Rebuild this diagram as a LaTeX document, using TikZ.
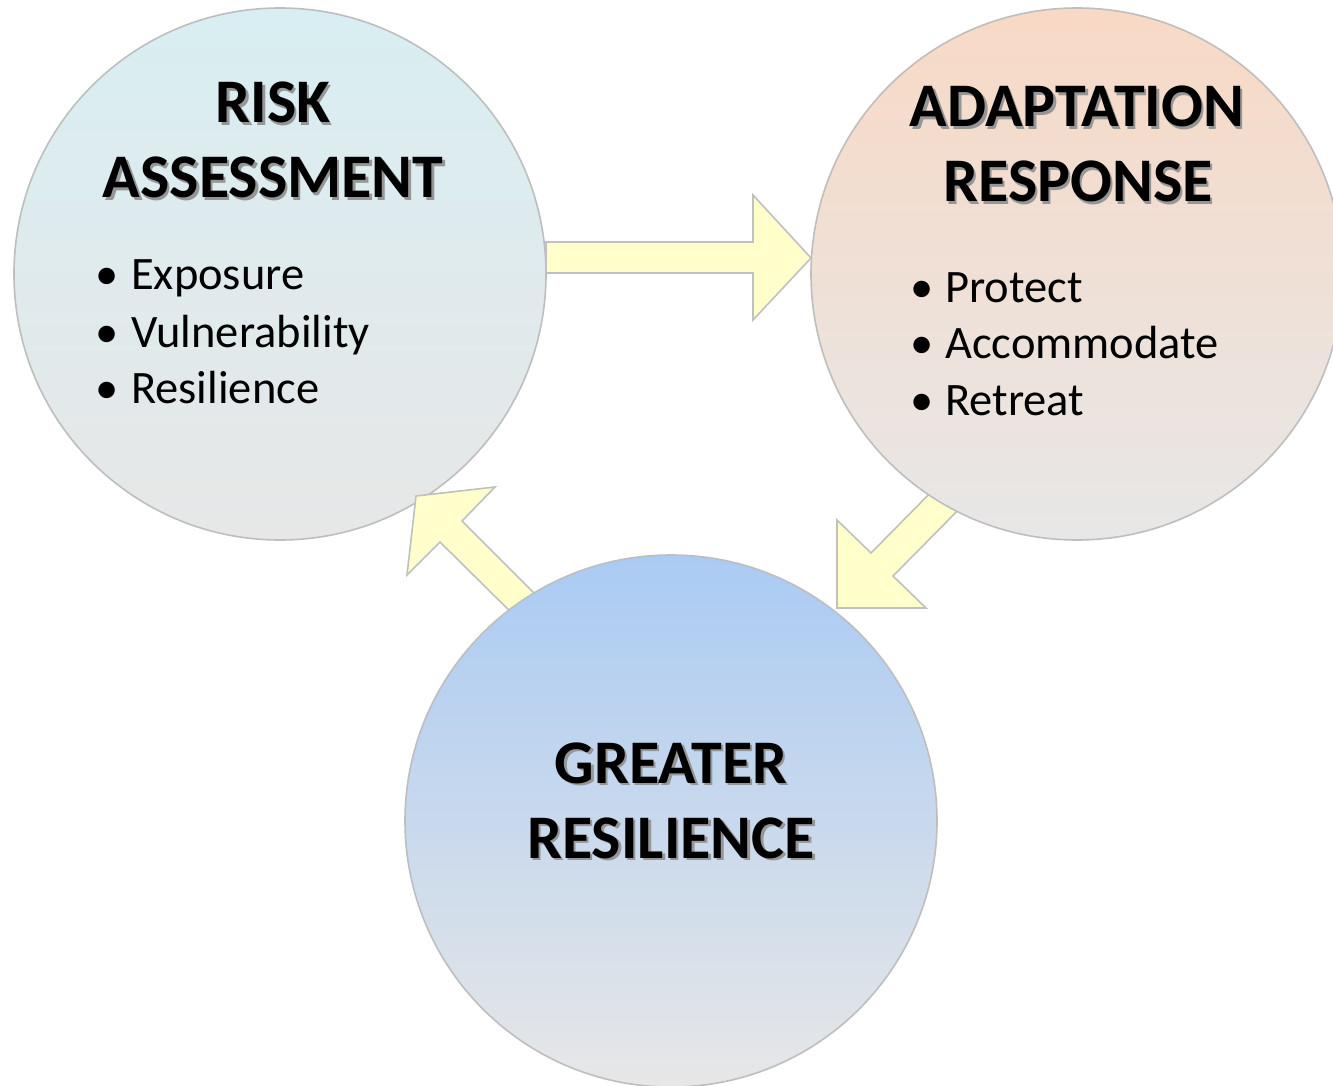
\documentclass[tikz,border=0pt]{standalone}
\usepackage{fontspec}
\setmainfont{Carlito}
\definecolor{risktop}{RGB}{216,238,242}
\definecolor{adapttop}{RGB}{248,217,197}
\definecolor{greattop}{RGB}{170,203,243}
\definecolor{circbottom}{RGB}{231,231,231}
\definecolor{circedge}{RGB}{190,190,190}
\definecolor{arrowfill}{RGB}{255,255,204}
\definecolor{arrowedge}{RGB}{192,192,192}
\definecolor{shadowgray}{RGB}{150,150,150}
\tikzset{
  bigcircle/.style={circle, draw=circedge, line width=1.6pt, minimum size=532pt, inner sep=0pt},
  blockarrow/.style={draw=arrowedge, fill=arrowfill, line width=1.6pt, line join=miter},
  titletext/.style={font=\bfseries\fontsize{62}{74}\selectfont, anchor=base, inner sep=0pt},
  titleshadow/.style={titletext, text=shadowgray},
  itemtext/.style={font=\fontsize{46.5}{56}\selectfont, anchor=base west, inner sep=0pt},
  bullettext/.style={font=\fontsize{46.5}{56}\selectfont, anchor=base, inner sep=0pt}
}
\begin{document}
\begin{tikzpicture}[x=1pt,y=-1pt]
\useasboundingbox (0,0) rectangle (1333,1086);
\fill[white] (0,0) rectangle (1333,1086);
% circle 1
\node[bigcircle, top color=risktop, bottom color=circbottom] (risk) at (280,274) {};
% arrow 1: risk -> adaptation
\coordinate (a1tip) at (811,258);
\draw[blockarrow] (546,242) -- (753,242) -- (753,195) -- (a1tip) -- (753,320) -- (753,273) -- (546,273) -- cycle;
% arrow 2: adaptation -> greater
\coordinate (a2tip) at (837,608);
\draw[blockarrow] (948,475) -- (871,553) -- (837,520) -- (a2tip) -- (926,608) -- (893,576) -- (976,492) -- cycle;
% arrow 3: greater -> risk
\coordinate (a3tip) at (416,496);
\draw[blockarrow] (554,613) -- (462,521) -- (495,487) -- (a3tip) -- (407,575) -- (440,542) -- (530,631) -- cycle;
% circles 2 and 3
\node[bigcircle, top color=adapttop, bottom color=circbottom] (adapt) at (1077,274) {};
\node[bigcircle, top color=greattop, bottom color=circbottom] (great) at (671,821) {};
% titles with shadow
\foreach \x/\y/\t in {273/123/RISK, 273/198/ASSESSMENT, 1077/127/ADAPTATION, 1078/202/RESPONSE, 671/783/GREATER, 671/858/RESILIENCE}{
  \node[titleshadow] at (\x+2.5,\y+2.5) {\t};
  \node[titletext] at (\x,\y) {\t};
}
% risk bullets
\foreach \y/\t in {289/Exposure, 347/Vulnerability, 403/Resilience}{
  \node[bullettext] at (107,\y) {•};
  \node[itemtext] at (131,\y) {\t};
}
% adaptation bullets
\foreach \y/\t in {302/Protect, 358/Accommodate, 415/Retreat}{
  \node[bullettext] at (922,\y) {•};
  \node[itemtext] at (945,\y) {\t};
}
\end{tikzpicture}
\end{document}
